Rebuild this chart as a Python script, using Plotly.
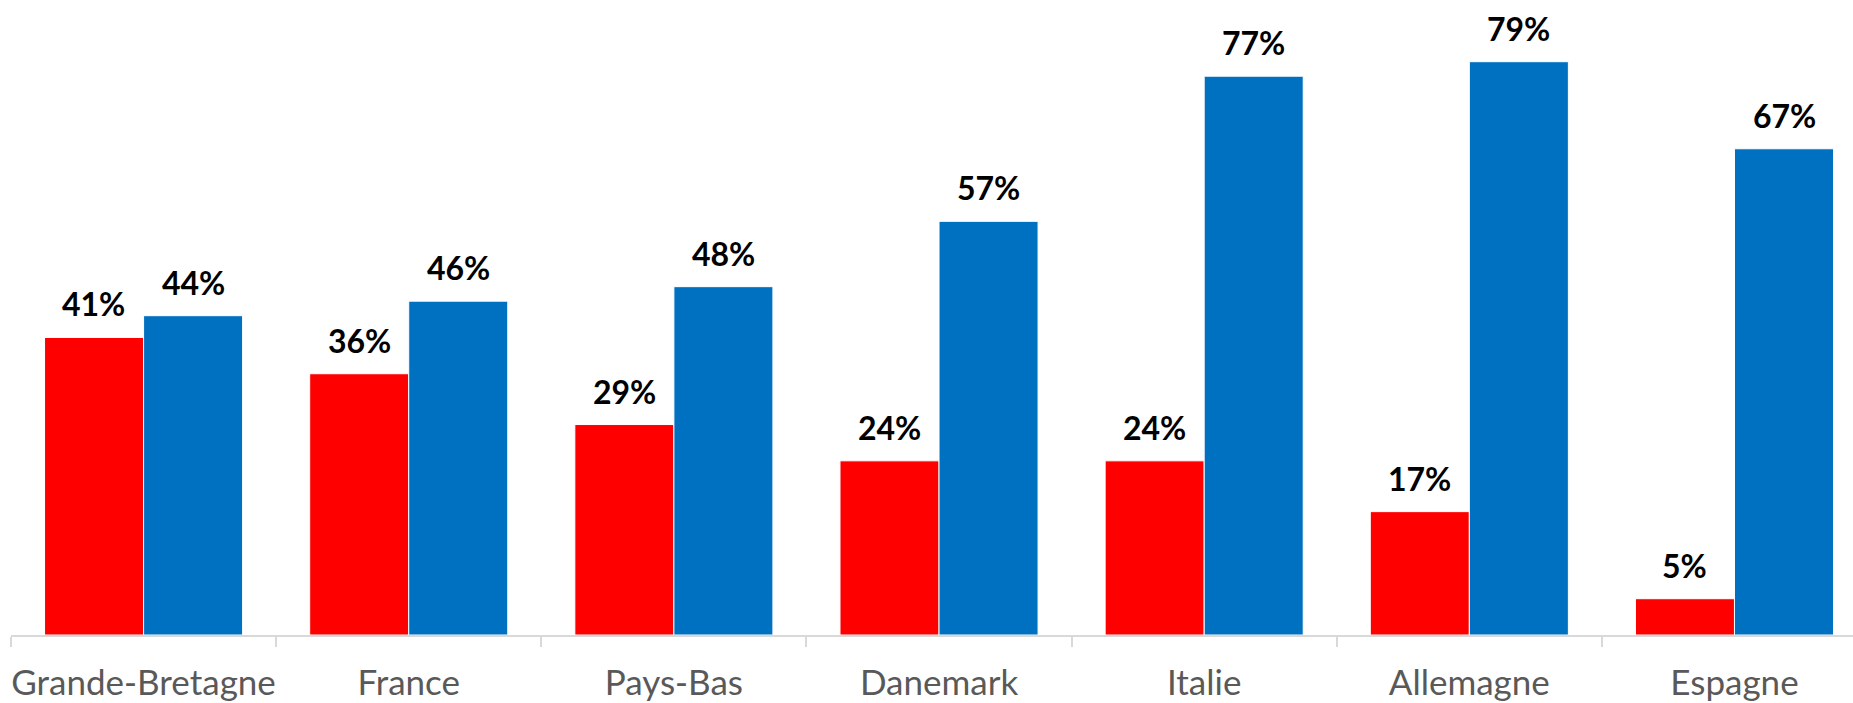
import plotly.graph_objects as go

# Pays et pourcentages par série
pays = ["Grande-Bretagne", "France", "Pays-Bas", "Danemark", "Italie", "Allemagne", "Espagne"]
serie_rouge = [41, 36, 29, 24, 24, 17, 5]
serie_bleue = [44, 46, 48, 57, 77, 79, 67]

ROUGE = "#FF0000"
BLEU = "#0070C0"

fig = go.Figure()
fig.add_trace(go.Bar(x=pays, y=serie_rouge, marker=dict(color=ROUGE, line=dict(color="white", width=1)),
                     showlegend=False, hoverinfo="skip"))
fig.add_trace(go.Bar(x=pays, y=serie_bleue, marker=dict(color=BLEU, line=dict(color="white", width=1)),
                     showlegend=False, hoverinfo="skip"))

# Étiquettes de valeur au-dessus des barres
dx = 0.187
for i, (r, b) in enumerate(zip(serie_rouge, serie_bleue)):
    for off, v in ((-dx, r), (dx, b)):
        fig.add_annotation(x=i + off, y=v, xref="x", yref="y", text=f"<b>{v}%</b>",
                           showarrow=False, yanchor="bottom", yshift=12,
                           font=dict(family="Lato", size=32, color="black"))

fig.update_layout(
    width=1853, height=703,
    margin=dict(l=11, r=0, t=0, b=68, autoexpand=False),
    paper_bgcolor="white", plot_bgcolor="white",
    barmode="group", bargap=0.253, bargroupgap=0.0,
    xaxis=dict(
        range=[-0.5, 6.447], automargin=False,
        showline=True, linecolor="#D9D9D9", linewidth=2,
        ticks="outside", tickson="boundaries", ticklen=10, tickcolor="#D9D9D9", tickwidth=2,
        ticklabelstandoff=16, tickangle=0,
        tickfont=dict(family="Lato", size=35, color="#595959"),
        showgrid=False, zeroline=False,
    ),
    yaxis=dict(range=[0, 87.5], visible=False, showgrid=False, zeroline=False, automargin=False),
)

fig.write_html("out.html")
